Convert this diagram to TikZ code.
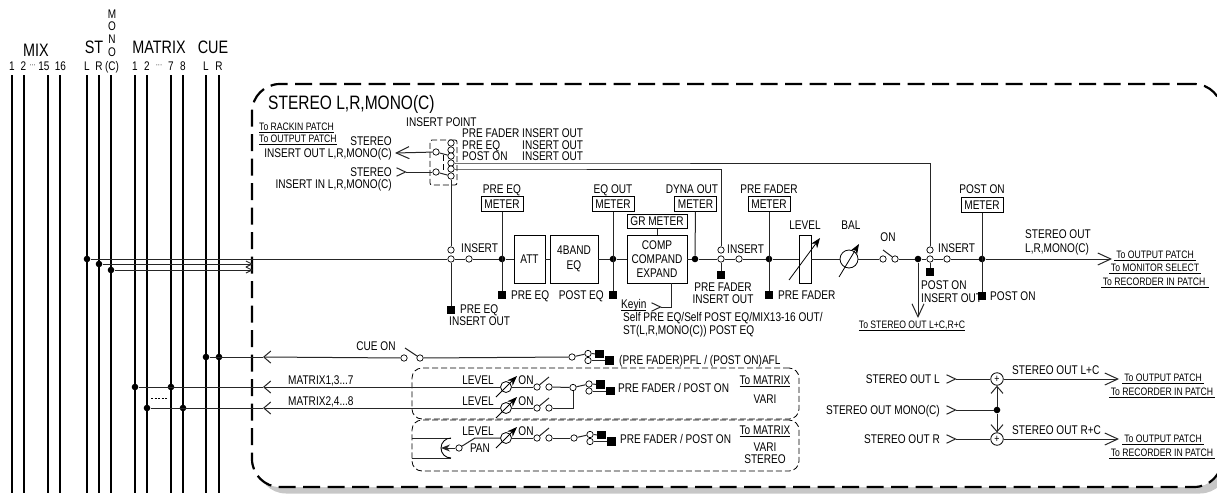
\documentclass[tikz,border=0pt]{standalone}
\usepackage{fontspec}
\setmainfont[FakeStretch=0.8]{Liberation Sans}
\usepackage{tikz}
\usetikzlibrary{arrows.meta}
\newcommand{\patchline}[1]{\setbox0\hbox{#1}\rlap{\rule[-2pt]{\wd0}{0.9pt}}\box0}
\tikzset{
  chv/.tip={Straight Barb[length=7pt,width=12pt]},
  rchv/.tip={Straight Barb[reversed,length=9pt,width=8.5pt]},
  bigchv/.tip={Straight Barb[length=13pt,width=12pt]},
  lbl/.style={inner sep=0pt, text height=9pt, text depth=0pt,
              font=\fontsize{12.6}{14}\selectfont},
  lblw/.style={lbl, anchor=west},
  lble/.style={lbl, anchor=east},
  big/.style={inner sep=0pt, text height=13pt, text depth=0pt,
              font=\fontsize{18}{19}\selectfont},
  num/.style={inner sep=0pt, text height=9pt, text depth=0pt,
              font=\fontsize{12.5}{13}\selectfont},
  patch/.style={lbl, font=\fontsize{10.8}{12}\selectfont},
  sig/.style={line width=1pt, color=black!85},
  arr/.style={sig, -chv},
  rarr/.style={sig, rchv-},
  busline/.style={line width=2.1pt},
  tap/.style={circle, draw, fill=white, line width=0.7pt, minimum size=6.4pt, inner sep=0pt},
  dot/.style={circle, fill=black, minimum size=6.6pt, inner sep=0pt},
  sq/.style={rectangle, fill=black, minimum size=8.6pt, inner sep=0pt},
  box/.style={rectangle, draw, line width=0.8pt, fill=white, inner sep=0pt, align=center,
              font=\fontsize{12.6}{14}\selectfont},
  meter/.style={box, minimum width=42pt, minimum height=14.5pt},
  knob/.style={circle, draw, line width=0.8pt, fill=white, inner sep=0pt},
  needle/.style={line width=0.8pt, -{Stealth[length=10pt,width=7.5pt]}},
  summer/.style={circle, draw, line width=0.8pt, fill=white, minimum size=12.5pt, inner sep=0pt,
                 font=\fontsize{11}{11}\selectfont},
  thindash/.style={rectangle, draw, line width=0.8pt, dash pattern=on 6pt off 3pt,
                   rounded corners=10pt, inner sep=0pt},
}
\begin{document}
\begin{tikzpicture}[x=1pt,y=-1pt]
  \useasboundingbox (0,0) rectangle (1217,493);
  \clip (0,0) rectangle (1217,493);

  % frame and its shadow
  \node[fill=black!22, rounded corners=28pt, minimum width=970pt, minimum height=403pt, inner sep=0pt] (shade) at (743,292) {};
  \node[draw, fill=white, line width=2.2pt, dash pattern=on 17pt off 7.5pt, rounded corners=28pt,
        minimum width=970pt, minimum height=403pt, inner sep=0pt] (frame) at (737,285.5) {};
  \node[big, anchor=west, font=\fontsize{19.4}{20}\selectfont] (title) at (268,103) {STEREO L,R,MONO(C)};

  % buses
  \foreach \n/\x in {a/12,b/24,c/48,d/60,e/87,f/99,g/111,h/135,i/147,j/171,k/183,l/206,m/219}{
    \coordinate (top\n) at (\x,75);
    \coordinate (end\n) at (\x,493);
    \draw[busline] (top\n) -- (end\n);
  }
  \node[big] (mixhead) at (36,50) {MIX};
  \node[big] (sthead) at (94,47) {ST};
  \node[big] (matrixhead) at (159,47) {MATRIX};
  \node[big] (cuehead) at (213,47) {CUE};
  \foreach \n/\x/\t in {a/12/1,b/23.5/2,d/44/15,e/60.5/16,f/87/L,g/99/R,h/112/(C),
                        i/135/1,j/147/2,l/171/7,m/183/8,o/206/L,p/219/R}{
    \node[num] (no\n) at (\x,66) {\t};
  }
  \foreach \n/\x in {c/32.5,k/159}{
    \node[num, font=\fontsize{8}{8}\selectfont] (no\n) at (\x,63) {···};
  }
  \foreach \n/\y/\t in {a/14/M,b/26/O,c/39/N,d/52/O}{
    \node[num] (mono\n) at (112,\y) {\t};
  }

  % insert point
  \node[patch, anchor=west] (rackin) at (259,126) {\patchline{To RACKIN PATCH}};
  \node[patch, anchor=west] (outpatch) at (259,138) {\patchline{To OUTPUT PATCH}};
  \node[lble] (stA) at (392,141) {STEREO};
  \node[lble] (insoutlbl) at (392,153) {INSERT OUT L,R,MONO(C)};
  \node[lble] (stB) at (392,172) {STEREO};
  \node[lble] (insinlbl) at (392,184) {INSERT IN L,R,MONO(C)};
  \node[lblw] (inspoint) at (406,122) {INSERT POINT};
  \node[lblw] (ipA) at (462,133) {PRE FADER};
  \node[lblw] (ipB) at (462,145) {PRE EQ};
  \node[lblw] (ipC) at (462,156) {POST ON};
  \node[lblw] (ipD) at (522,133) {INSERT OUT};
  \node[lblw] (ipE) at (522,145) {INSERT OUT};
  \node[lblw] (ipF) at (522,156) {INSERT OUT};
  \node[thindash, rounded corners=2pt, minimum width=27pt, minimum height=45pt] (ipbox) at (443.5,162.5) {};
  \foreach \n/\y in {a/143,b/150,c/156,d/163,e/169,f/176}{
    \node[tap] (pt\n) at (451,\y) {};
  }
  \node[tap] (ptout) at (436,152) {};
  \node[tap] (ptin) at (436,172) {};
  \coordinate (outtip) at (395,153);
  \coordinate (intail) at (396,172);
  \draw[sig, -bigchv] (ptout) -- (outtip);
  \draw[rarr] (intail) -- (ptin);
  \draw[sig] (ptout) -- (ptc);
  \draw[sig] (ptin) -- (ptf);
  \draw[thindash, rounded corners=0pt] (443,155) -- (443,171);

  % main line
  \node[dot] (stL) at (87,259) {};
  \node[dot] (stR) at (99,264) {};
  \node[dot] (stM) at (111,270) {};
  \coordinate (stRend) at (253,264);
  \coordinate (stMend) at (253,270);
  \draw[sig, -{Straight Barb[length=6pt,width=6pt]}] (stR) -- (stRend);
  \draw[sig, -{Straight Barb[length=6pt,width=6pt]}] (stM) -- (stMend);

  \node[tap] (insAu) at (451,250) {};
  \node[tap] (insAl) at (451,259) {};
  \node[tap] (insAr) at (469,259) {};
  \node[lblw] (insAlbl) at (461,248) {INSERT};
  \node[dot] (preeq) at (502,259) {};
  \node[box, minimum width=31pt, minimum height=48pt] (att) at (529.5,259) {ATT};
  \node[box, minimum width=48pt, minimum height=48pt] (eq) at (574,259) {4BAND\\[1pt]EQ};
  \node[dot] (eqout) at (613,259) {};
  \node[box, minimum width=60pt, minimum height=48pt] (comp) at (657,259) {COMP\\COMPAND\\EXPAND};
  \node[meter, minimum width=60pt] (grmeter) at (657,221.5) {GR METER};
  \node[dot] (dynaout) at (695,259) {};
  \node[tap] (insBu) at (721,250) {};
  \node[tap] (insBl) at (721,259) {};
  \node[tap] (insBr) at (739,259) {};
  \node[lblw] (insBlbl) at (727,249) {INSERT};
  \node[dot] (prefader) at (769,259) {};
  \node[box, minimum width=12pt, minimum height=48pt] (fader) at (805,259) {};
  \node[lbl] (levellbl) at (805,225) {LEVEL};
  \node[knob, minimum size=18pt] (bal) at (849,259) {};
  \node[lbl] (ballbl) at (851,225) {BAL};
  \node[tap] (onA) at (883,259) {};
  \node[tap] (onB) at (895,259) {};
  \coordinate (onblade) at (883,250);
  \node[lbl] (onlbl) at (888,237) {ON};
  \node[dot] (lcrc) at (918,259) {};
  \node[tap] (insCu) at (930,250) {};
  \node[tap] (insCl) at (930,259) {};
  \node[tap] (insCr) at (947,259) {};
  \node[lblw] (insClbl) at (938,248) {INSERT};
  \node[dot] (poston) at (982,259) {};
  \coordinate (mainout) at (1112,259);
  \draw[sig] (stL) -- (insAl) -- (insAr) -- (preeq) -- (att) -- (eq) -- (eqout) -- (comp) -- (dynaout) -- (insBl);
  \draw[sig] (insBl) -- (insBr) -- (prefader) -- (fader) -- (bal) -- (onA);
  \draw[sig] (onB) -- (lcrc) -- (insCl) -- (insCr) -- (poston);
  \draw[sig, -bigchv] (poston) -- (mainout);
  \draw[sig] (onblade) -- (onB);
  \draw[sig] (grmeter) -- (comp);
  \coordinate (faderA) at (789,280);
  \coordinate (faderB) at (820,238);
  \draw[needle] (faderA) -- (faderB);
  \coordinate (balA) at (839,277);
  \coordinate (balB) at (859,244);
  \draw[needle] (balA) -- (balB);

  % meters, with what hangs on them
  \foreach \n/\x/\t in {pe/502/PRE EQ,eo/613/EQ OUT,dy/692/DYNA OUT,pf/769/PRE FADER,po/982/POST ON}{
    \node[lbl] (mt\n) at (\x,189) {\t};
  }
  \node[meter] (mA) at (502,204) {METER};
  \node[meter] (mB) at (613,204) {METER};
  \node[meter] (mC) at (695.5,204) {METER};
  \node[meter] (mD) at (769,204) {METER};
  \node[meter] (mE) at (982,205) {METER};
  \draw[sig] (mC) -- (dynaout);
  \node[sq] (sqA) at (451,310) {};
  \node[sq] (sqB) at (502,295) {};
  \node[sq] (sqC) at (613,295) {};
  \node[sq] (sqD) at (721,275) {};
  \node[sq] (sqE) at (769,295) {};
  \node[sq] (sqF) at (930,272) {};
  \node[sq] (sqG) at (982,296) {};
  \draw[sig] (insAl) -- (sqA);
  \draw[sig] (mA) -- (sqB);
  \draw[sig] (mB) -- (sqC);
  \draw[sig] (insBl) -- (sqD);
  \draw[sig] (mD) -- (sqE);
  \draw[sig] (insCl) -- (sqF);
  \draw[sig] (mE) -- (sqG);
  \draw[sig] (ptf) -- (insAu);
  \draw[sig] (ptd) -- ++(4,0) -| (insCu);
  \draw[sig] (pte) -- ++(4,0) -| (insBu);

  \node[lblw] (sqAa) at (460,309) {PRE EQ};
  \node[lblw] (sqAb) at (449,321) {INSERT OUT};
  \node[lblw] (sqBa) at (511,295) {PRE EQ};
  \node[lble] (sqCa) at (604,295) {POST EQ};
  \node[lbl] (sqDa) at (723,287) {PRE FADER};
  \node[lbl] (sqDb) at (723,299) {INSERT OUT};
  \node[lblw] (sqEa) at (778,295) {PRE FADER};
  \node[lblw] (sqFa) at (921,285) {POST ON};
  \node[lblw] (sqFb) at (921,298) {INSERT OUT};
  \node[lblw] (sqGa) at (990,296) {POST ON};

  % keyin
  \node[lblw] (keyinlbl) at (621,304) {\patchline{Keyin}};
  \coordinate (keyin) at (651,307);
  \coordinate (keybend) at (671,307);
  \coordinate (keytop) at (671,283);
  \draw[sig, rchv-] (keyin) -- (keybend) -- (keytop);
  \node[lblw] (keyA) at (623,317) {Self PRE EQ/Self POST EQ/MIX13-16 OUT/};
  \node[lblw] (keyB) at (623,330) {ST(L,R,MONO(C)) POST EQ};

  % outputs
  \node[lblw] (outA) at (1025,234) {STEREO OUT};
  \node[lblw] (outB) at (1025,248) {L,R,MONO(C)};
  \node[patch] (patA) at (1155,254) {\patchline{\,To OUTPUT PATCH\,}};
  \node[patch] (patB) at (1155,267) {\patchline{\,To MONITOR SELECT\,}};
  \node[patch] (patC) at (1155,281) {\patchline{\,To RECORDER IN PATCH\,\,}};
  \coordinate (tolcrc) at (918,318);
  \draw[sig, -bigchv] (lcrc) -- (tolcrc);
  \node[patch] (lcrclbl) at (912,324) {\patchline{To STEREO OUT L+C,R+C}};

  % cue and matrix sends
  \node[dot] (cueL) at (206,357) {};
  \node[dot] (cueR) at (219,357) {};
  \node[dot] (mxA) at (135,387) {};
  \node[dot] (mxB) at (171,387) {};
  \node[dot] (mxC) at (147,408) {};
  \node[dot] (mxD) at (183,408) {};
  \node[tap] (cueA) at (404,358) {};
  \node[tap] (cueB) at (420,358) {};
  \coordinate (cueblade) at (405,348);
  \coordinate (cueTip) at (263,357);
  \coordinate (mxATip) at (263,387);
  \coordinate (mxCTip) at (263,408);
  \draw[sig] (cueblade) -- (cueB);
  \node[lbl] (cuelbl) at (376,346) {CUE ON};
  \node[lblw] (mxlblA) at (288,380) {MATRIX1,3...7};
  \node[lblw] (mxlblB) at (288,401) {MATRIX2,4...8};
  \coordinate (mxdotsA) at (151,398);
  \coordinate (mxdotsB) at (167,398);
  \draw[line width=0.9pt, dash pattern=on 2pt off 1.5pt] (mxdotsA) -- (mxdotsB);
  \node[thindash, minimum width=387pt, minimum height=51pt] (busA) at (605.5,393.5) {};
  \node[thindash, minimum width=387pt, minimum height=51pt] (busB) at (605.5,445.5) {};

  % knob and switch of the three sends
  \foreach \n/\y in {a/387,b/408,c/438}{
    \node[knob, minimum size=11pt] (kn\n) at (506,\y) {};
    \node[tap] (sw\n) at (537,\y) {};
    \node[tap] (sv\n) at (549,\y) {};
    \draw[needle] ([shift={(-10,10)}]kn\n.center) -- ([shift={(11,-11)}]kn\n.center);
    \draw[sig] (kn\n) -- (sw\n);
    \draw[sig] (sw\n) -- ++(12,-10);
    \node[lbl] (on\n) at (526,\y-7) {ON};
  }
  \node[lbl] (lvla) at (478,380) {LEVEL};
  \node[lbl] (lvlb) at (478,401) {LEVEL};
  \node[lbl] (lvlc) at (478,431) {LEVEL};
  \node[lbl] (panlbl) at (480,448) {PAN};
  \draw[arr] (cueA) -- (cueTip);
  \draw[arr] (kna) -- (mxATip);
  \draw[arr] (knb) -- (mxCTip);
  \draw[sig] (mxA) -- (mxATip);
  \draw[sig] (mxC) -- (mxCTip);
  \draw[sig] (cueL) -- (cueTip);

  % pre fader / post on ends
  \foreach \n/\x/\y in {cu/572/357,ma/573/387.5,mc/574/438}{
    \node[tap] (sl\n) at (\x,\y) {};
    \node[tap] (su\n) at (\x+16,\y-3.5) {};
    \node[tap] (sd\n) at (\x+16,\y+3.5) {};
    \node[sq] (sqa\n) at (\x+27.5,\y-3) {};
    \node[sq] (sqb\n) at (\x+37.5,\y+3.5) {};
    \draw[sig] (sl\n) -- (su\n);
    \draw[sig] (su\n) -- (sqa\n);
    \draw[sig] (sd\n) -- (sqb\n);
  }
  \draw[sig] (cueB) -- (slcu);
  \draw[sig] (sva) -- (slma);
  \draw[sig] (svb) -| (slma);
  \draw[sig] (svc) -- (slmc);
  \node[lblw] (pfllbl) at (619,360) {(PRE FADER)PFL / (POST ON)AFL};
  \node[lblw] (pfA) at (618,388) {PRE FADER / POST ON};
  \node[lblw] (pfB) at (620,439) {PRE FADER / POST ON};
  \node[lbl] (tomxA) at (765,380) {\patchline{To MATRIX}};
  \node[lbl] (variA) at (765,399) {VARI};
  \node[lbl] (tomxB) at (765,430) {\patchline{To MATRIX}};
  \node[lbl] (variB) at (765,447) {VARI};
  \node[lbl] (variC) at (765,459) {STEREO};

  % pan
  \coordinate (panU) at (412,438);
  \coordinate (panUb) at (451,438);
  \coordinate (panD) at (412,458);
  \coordinate (panDb) at (451,458);
  \coordinate (panMid) at (441,448);
  \coordinate (panblade) at (475,438);
  \node[tap] (panA) at (459,448) {};
  \draw[sig] (panU) -- (panUb);
  \draw[sig] (panD) -- (panDb);
  \draw[line width=0.9pt] (panUb) to[out=180,in=90] (panMid) to[out=-90,in=180] (panDb);
  \draw[sig, -{Stealth[length=9pt,width=7pt]}] (panA) -- (panMid);
  \draw[sig] (panA) -- (panblade) -- (knc);

  % L+C, R+C
  \node[summer] (sumL) at (997,379) {+};
  \node[summer] (sumR) at (997,439) {+};
  \node[dot] (monodot) at (997,410) {};
  \coordinate (inL) at (946,379);
  \coordinate (inM) at (946,410);
  \coordinate (inR) at (946,439);
  \coordinate (outL) at (1119,379);
  \coordinate (outR) at (1119,439);
  \draw[rarr] (inL) -- (sumL);
  \draw[rarr] (inM) -- (monodot);
  \draw[rarr] (inR) -- (sumR);
  \draw[arr] (monodot) -- (sumL);
  \draw[arr] (monodot) -- (sumR);
  \draw[sig, -bigchv] (sumL) -- (outL);
  \draw[sig, -bigchv] (sumR) -- (outR);
  \node[lble] (outLlbl) at (940,379) {STEREO OUT L};
  \node[lble] (outMlbl) at (940,410) {STEREO OUT MONO(C)};
  \node[lble] (outRlbl) at (940,439) {STEREO OUT R};
  \node[lblw] (lcA) at (1012,370) {STEREO OUT L+C};
  \node[lblw] (lcB) at (1012,430) {STEREO OUT R+C};
  \node[patch] (patD) at (1163,377) {\patchline{\,To OUTPUT PATCH\,}};
  \node[patch] (patE) at (1162,391) {\patchline{\,To RECORDER IN PATCH\,}};
  \node[patch] (patF) at (1163,438) {\patchline{\,To OUTPUT PATCH\,}};
  \node[patch] (patG) at (1162,452) {\patchline{\,To RECORDER IN PATCH\,}};
\end{tikzpicture}
\end{document}
